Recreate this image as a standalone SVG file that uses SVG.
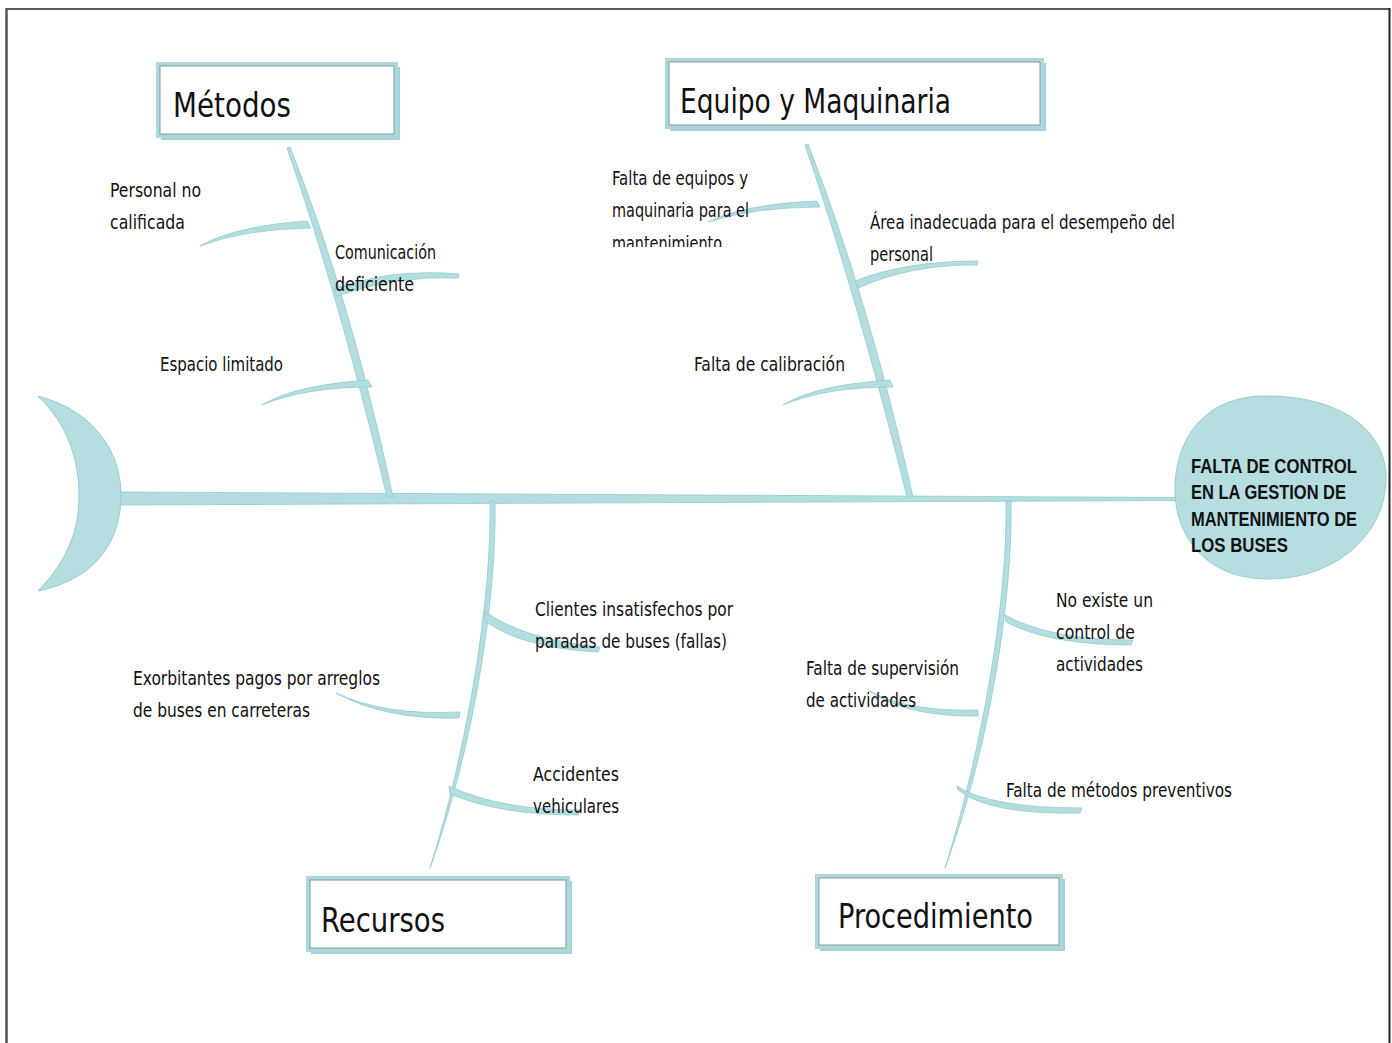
<svg xmlns="http://www.w3.org/2000/svg" width="1392" height="1043" viewBox="0 0 1392 1043">
  <defs>
    <style>
      .bone { fill: #b4dde0; stroke: #8fcbcf; stroke-width: 0.8; }
      .lbl { font-family: "DejaVu Sans Condensed", "DejaVu Sans", sans-serif; font-size: 19px; fill: #111; }
      .ttl { font-family: "DejaVu Sans Condensed", "DejaVu Sans", sans-serif; font-size: 34px; fill: #111; }
      .head { font-family: "Liberation Sans", Arial, sans-serif; font-weight: bold; font-size: 20px; fill: #111; }
      .boxShadow { fill: #a3d3d6; }
      .boxOuter { fill: #ffffff; stroke: #acd8db; stroke-width: 4; }
      .boxInner { fill: none; stroke: #7e9c9e; stroke-width: 1; }
    </style>
    <clipPath id="cutLine">
      <rect x="600" y="150" width="200" height="97"/>
    </clipPath>
  </defs>

  <rect x="0" y="0" width="1392" height="1043" fill="#ffffff"/>

  <!-- page frame -->
  <g id="frame" fill="none">
    <line x1="6" y1="9" x2="1390" y2="9" stroke="#5a5a5a" stroke-width="2"/>
    <line x1="6.5" y1="8" x2="6.5" y2="1043" stroke="#555555" stroke-width="2.5"/>
    <line x1="1389.5" y1="8" x2="1389.5" y2="1043" stroke="#222222" stroke-width="2"/>
  </g>

  <!-- spine, bones and sub-bones -->
  <g id="connectors">
    <!-- main spine -->
    <path class="bone" d="M118,492 L1176,497.5 L1176,500.5 L118,505 Z"/>

    <!-- Métodos bone -->
    <path class="bone" d="M287,148 Q340,300 387,497 L393,497 Q351,300 290,147 Z"/>
    <path class="bone" d="M200,246 Q235,226 307,221 L311,228 Q245,229 200,246 Z"/>
    <path class="bone" d="M334,289 Q392,268 459,274 L458,278 Q398,275 337,296 Z"/>
    <path class="bone" d="M262,405 Q295,385 368,380 L372,387 Q305,387 262,405 Z"/>

    <!-- Equipo y Maquinaria bone -->
    <path class="bone" d="M805,145 Q858,300 907,497 L913,497 Q869,300 808,144 Z"/>
    <path class="bone" d="M708,222 Q745,204 817,201 L820,207 Q755,207 708,222 Z"/>
    <path class="bone" d="M855,281 Q905,261 978,261 L977,265 Q912,264 858,288 Z"/>
    <path class="bone" d="M783,405 Q815,385 890,380 L893,387 Q825,387 783,405 Z"/>

    <!-- Recursos bone -->
    <path class="bone" d="M490,501 C492,600 467,750 430,868 C473,750 497,600 495,501 Z"/>
    <path class="bone" d="M484,611 Q525,640 600,647 L598,652 Q522,648 485,621 Z"/>
    <path class="bone" d="M336,693 Q385,716 460,712 L459,718 Q385,720 336,693 Z"/>
    <path class="bone" d="M449,786 Q500,810 580,810 L578,815 Q500,815 450,794 Z"/>

    <!-- Procedimiento bone -->
    <path class="bone" d="M1006,501 C1008,600 982,750 945,868 C989,750 1013,600 1011,501 Z"/>
    <path class="bone" d="M1005,615 Q1050,640 1133,640 L1131,645 Q1050,645 1006,622 Z"/>
    <path class="bone" d="M868,690 Q905,712 978,710 L978,716 Q905,717 868,690 Z"/>
    <path class="bone" d="M957,786 Q990,808 1082,808 L1080,813 Q990,815 958,790 Z"/>
  </g>

  <!-- tail fin -->
  <g id="tail">
    <path d="M38,396 C92,410 121,450 121,495 C121,545 92,580 38,591 C68,560 79,530 79,495 C79,460 68,425 38,396 Z" fill="#b6dee1" stroke="#93cdd1" stroke-width="1"/>
  </g>

  <!-- effect (head) -->
  <g id="effect">
    <path d="M1266,396 C1340,396 1386,430 1386,478 C1386,535 1335,579 1268,579 C1205,579 1175,535 1175,490 C1175,440 1203,396 1266,396 Z" fill="#b6dee1" stroke="#93cdd1" stroke-width="1"/>
    <text class="head" x="1191" y="473" textLength="166" lengthAdjust="spacingAndGlyphs">FALTA DE CONTROL</text>
    <text class="head" x="1191" y="499" textLength="155" lengthAdjust="spacingAndGlyphs">EN LA GESTION DE</text>
    <text class="head" x="1191" y="526" textLength="166" lengthAdjust="spacingAndGlyphs">MANTENIMIENTO DE</text>
    <text class="head" x="1191" y="552" textLength="97" lengthAdjust="spacingAndGlyphs">LOS BUSES</text>
  </g>

  <!-- category boxes -->
  <g id="cat-metodos">
    <rect class="boxShadow" x="161" y="67" width="239" height="73"/>
    <rect class="boxOuter" x="158" y="64" width="238" height="72"/>
    <rect class="boxInner" x="160" y="66" width="234" height="68"/>
    <text class="ttl" x="173" y="117" textLength="118" lengthAdjust="spacingAndGlyphs">Métodos</text>
  </g>
  <g id="cat-equipo">
    <rect class="boxShadow" x="670" y="63" width="376" height="68"/>
    <rect class="boxOuter" x="667" y="60" width="375" height="67"/>
    <rect class="boxInner" x="669" y="62" width="371" height="63"/>
    <text class="ttl" x="680" y="113" textLength="271" lengthAdjust="spacingAndGlyphs">Equipo y Maquinaria</text>
  </g>
  <g id="cat-recursos">
    <rect class="boxShadow" x="311" y="881" width="261" height="73"/>
    <rect class="boxOuter" x="308" y="878" width="260" height="72"/>
    <rect class="boxInner" x="310" y="880" width="256" height="68"/>
    <text class="ttl" x="321" y="932" textLength="124" lengthAdjust="spacingAndGlyphs">Recursos</text>
  </g>
  <g id="cat-procedimiento">
    <rect class="boxShadow" x="820" y="879" width="245" height="72"/>
    <rect class="boxOuter" x="817" y="876" width="244" height="71"/>
    <rect class="boxInner" x="819" y="878" width="240" height="67"/>
    <text class="ttl" x="838" y="928" textLength="195" lengthAdjust="spacingAndGlyphs">Procedimiento</text>
  </g>

  <!-- cause labels -->
  <g id="cause-personal">
    <text class="lbl" x="110" y="197" textLength="91" lengthAdjust="spacingAndGlyphs">Personal  no</text>
    <text class="lbl" x="110" y="229" textLength="75" lengthAdjust="spacingAndGlyphs">calificada</text>
  </g>
  <g id="cause-comunicacion">
    <text class="lbl" x="335" y="259" textLength="101" lengthAdjust="spacingAndGlyphs">Comunicación</text>
    <text class="lbl" x="335" y="291" textLength="79" lengthAdjust="spacingAndGlyphs">deficiente</text>
  </g>
  <g id="cause-espacio">
    <text class="lbl" x="160" y="371" textLength="123" lengthAdjust="spacingAndGlyphs">Espacio limitado</text>
  </g>
  <g id="cause-equipos">
    <text class="lbl" x="612" y="185" textLength="136" lengthAdjust="spacingAndGlyphs">Falta de equipos y</text>
    <text class="lbl" x="612" y="217" textLength="137" lengthAdjust="spacingAndGlyphs">maquinaria para el</text>
    <text class="lbl" x="612" y="250" textLength="110" lengthAdjust="spacingAndGlyphs" clip-path="url(#cutLine)">mantenimiento</text>
  </g>
  <g id="cause-area">
    <text class="lbl" x="870" y="229" textLength="305" lengthAdjust="spacingAndGlyphs">Área inadecuada  para el desempeño del</text>
    <text class="lbl" x="870" y="261" textLength="63" lengthAdjust="spacingAndGlyphs">personal</text>
  </g>
  <g id="cause-calibracion">
    <text class="lbl" x="694" y="371" textLength="151" lengthAdjust="spacingAndGlyphs">Falta de calibración</text>
  </g>
  <g id="cause-clientes">
    <text class="lbl" x="535" y="616" textLength="198" lengthAdjust="spacingAndGlyphs">Clientes insatisfechos por</text>
    <text class="lbl" x="535" y="648" textLength="192" lengthAdjust="spacingAndGlyphs">paradas de buses (fallas)</text>
  </g>
  <g id="cause-exorbitantes">
    <text class="lbl" x="133" y="685" textLength="247" lengthAdjust="spacingAndGlyphs">Exorbitantes pagos por arreglos</text>
    <text class="lbl" x="133" y="717" textLength="177" lengthAdjust="spacingAndGlyphs">de buses en carreteras</text>
  </g>
  <g id="cause-accidentes">
    <text class="lbl" x="533" y="781" textLength="86" lengthAdjust="spacingAndGlyphs">Accidentes</text>
    <text class="lbl" x="533" y="813" textLength="86" lengthAdjust="spacingAndGlyphs">vehiculares</text>
  </g>
  <g id="cause-control">
    <text class="lbl" x="1056" y="607" textLength="97" lengthAdjust="spacingAndGlyphs">No existe un</text>
    <text class="lbl" x="1056" y="639" textLength="79" lengthAdjust="spacingAndGlyphs">control de</text>
    <text class="lbl" x="1056" y="671" textLength="87" lengthAdjust="spacingAndGlyphs">actividades</text>
  </g>
  <g id="cause-supervision">
    <text class="lbl" x="806" y="675" textLength="153" lengthAdjust="spacingAndGlyphs">Falta de supervisión</text>
    <text class="lbl" x="806" y="707" textLength="110" lengthAdjust="spacingAndGlyphs">de actividades</text>
  </g>
  <g id="cause-preventivos">
    <text class="lbl" x="1006" y="797" textLength="226" lengthAdjust="spacingAndGlyphs">Falta de métodos preventivos</text>
  </g>
</svg>
